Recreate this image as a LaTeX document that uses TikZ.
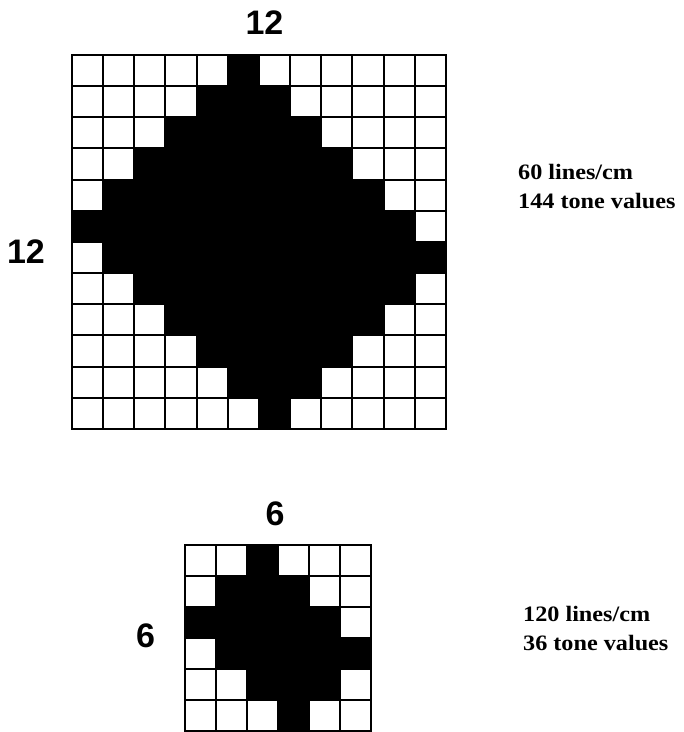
\documentclass[tikz,border=0pt]{standalone}
\usepackage{fontspec}
\setmainfont{Liberation Serif}
\newfontfamily\numfont{Liberation Sans}
\newfontfamily\capfont[FakeStretch=1.1]{Liberation Serif}
\begin{document}
\begin{tikzpicture}[x=1pt,y=-1pt,
  numlab/.style={font=\numfont\bfseries\fontsize{34}{40}\selectfont, inner sep=0pt, anchor=base},
  caplab/.style={font=\capfont\bfseries\fontsize{22}{26}\selectfont, inner sep=0pt, anchor=base west},
  gridline/.style={line width=2pt, line cap=rect, black}]
\useasboundingbox (0,0) rectangle (684,732);
% big grid
\def\gxa{72}\def\gya{55}\def\gca{31.15}
\foreach \r/\a/\b in {0/5/5,1/4/6,2/3/7,3/2/8,4/1/9,5/0/10,6/1/11,7/2/10,8/3/9,9/4/8,10/5/7,11/6/6}
  \fill[black] (\gxa+\a*\gca, \gya+\r*\gca) rectangle (\gxa+\b*\gca+\gca, \gya+\r*\gca+\gca);
\foreach \i in {0,...,12} {
  \draw[gridline] (\gxa+\i*\gca, \gya) -- (\gxa+\i*\gca, \gya+12*\gca);
  \draw[gridline] (\gxa, \gya+\i*\gca) -- (\gxa+12*\gca, \gya+\i*\gca);
}
% small grid
\def\gxb{185}\def\gyb{545}\def\gcb{31}
\foreach \r/\a/\b in {0/2/2,1/1/3,2/0/4,3/1/5,4/2/4,5/3/3}
  \fill[black] (\gxb+\a*\gcb, \gyb+\r*\gcb) rectangle (\gxb+\b*\gcb+\gcb, \gyb+\r*\gcb+\gcb);
\foreach \i in {0,...,6} {
  \draw[gridline] (\gxb+\i*\gcb, \gyb) -- (\gxb+\i*\gcb, \gyb+6*\gcb);
  \draw[gridline] (\gxb, \gyb+\i*\gcb) -- (\gxb+6*\gcb, \gyb+\i*\gcb);
}
% labels
\node[numlab] (topA) at (264.5,34) {12};
\node[numlab] (leftA) at (26,263) {12};
\node[numlab] (topB) at (275,525) {6};
\node[numlab] (leftB) at (145.5,647) {6};
\node[caplab] (capA1) at (518,179) {60 lines/cm};
\node[caplab] (capA2) at (518,208) {144 tone values};
\node[caplab] (capB1) at (523,621) {120 lines/cm};
\node[caplab] (capB2) at (523,650) {36 tone values};
\end{tikzpicture}
\end{document}
